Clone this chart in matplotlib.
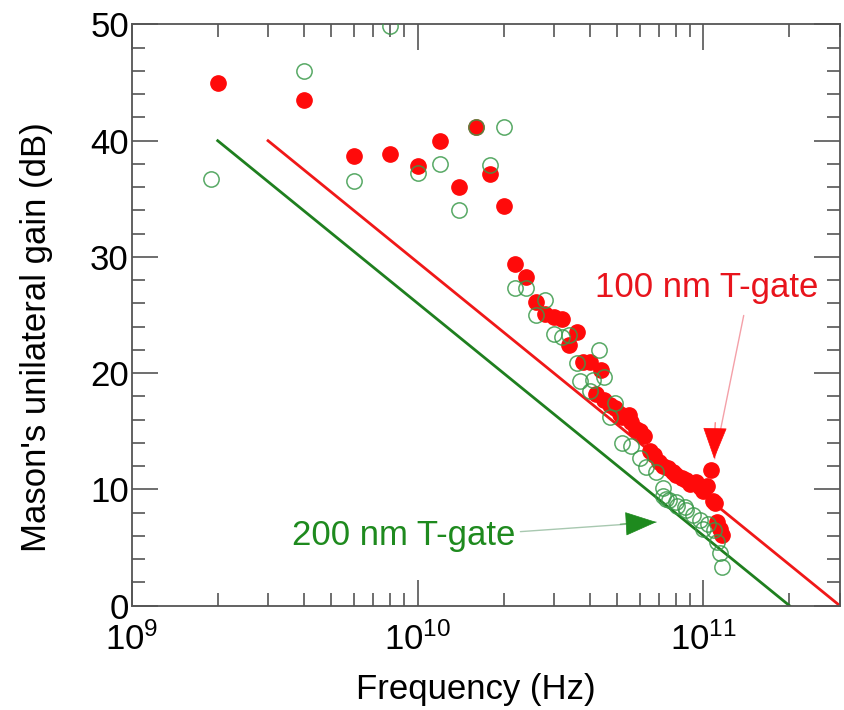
import numpy as np
import matplotlib.pyplot as plt
from matplotlib.ticker import MultipleLocator, LogLocator, NullFormatter

plt.rcParams['font.family'] = ['Liberation Sans', 'DejaVu Sans']
plt.rcParams['mathtext.default'] = 'regular'

# 100 nm T-gate (filled red), frequency in GHz, gain in dB
f_100 = [2, 4, 6, 8, 10, 12, 14, 16, 18, 20,
         22, 24, 26, 28, 30, 32, 34, 36, 38, 40,
         42, 44, 45, 47, 49, 51, 52, 55, 56, 58,
         60, 62, 65, 67, 70, 72, 75, 78, 80, 84,
         87, 90, 94, 97, 100, 103, 106, 108, 110, 112,
         114, 116]
u_100 = [45.0, 43.5, 38.7, 38.9, 37.8, 40.0, 36.0, 41.2, 37.1, 34.4,
         29.4, 28.3, 26.1, 25.1, 24.8, 24.7, 22.4, 23.5, 21.0, 21.0,
         18.2, 20.3, 17.7, 17.3, 17.0, 16.5, 16.2, 16.4, 15.8, 15.2,
         15.0, 14.6, 13.3, 13.0, 12.4, 12.0, 11.8, 11.5, 11.2, 11.0,
         10.8, 10.5, 10.6, 10.2, 9.9, 10.3, 11.7, 9.0, 8.8, 7.2,
         6.6, 6.1]

# 200 nm T-gate (open green)
f_200 = [1.9, 4, 6, 8, 10, 12, 14, 16, 18, 20,
         22, 24, 26, 28, 30, 32, 34, 36, 37, 40,
         41, 43, 45, 47, 49, 52, 56, 60, 63, 68,
         72, 72, 74, 76, 80, 81, 86, 87, 92, 97,
         100, 104, 109, 112, 114, 116]
u_200 = [36.7, 46.0, 36.5, 49.9, 37.2, 38.0, 34.0, 41.2, 37.9, 41.2,
         27.3, 27.3, 25.0, 26.3, 23.4, 23.1, 23.3, 20.9, 19.3, 18.5,
         19.4, 22.0, 19.7, 16.2, 17.4, 14.0, 13.7, 12.7, 11.9, 11.5,
         10.1, 9.4, 9.2, 9.1, 8.9, 8.6, 8.5, 8.2, 7.8, 7.4,
         6.6, 7.0, 6.5, 5.5, 4.5, 3.3]

# -20 dB/decade guide lines (Hz, dB)
line_100_f = [3e9, 3e11]
line_200_f = [2e9, 2e11]
line_u = [40, 0]

red = '#ff0a0a'
green = '#3a9a4a'
dgreen = '#1f7f1f'
tgreen = '#1e8a1e'

fig = plt.figure(figsize=(8.44, 7.10), dpi=100)
ax = fig.add_axes([0.156, 0.147, 0.839, 0.8185])

ax.plot(line_100_f, line_u, color='#f01818', lw=2.0, zorder=2)
ax.plot(line_200_f, line_u, color=dgreen, lw=2.0, zorder=2)

ax.plot(np.array(f_100) * 1e9, u_100, 'o', ms=11, color=red, mec=red, zorder=3)
ax.plot(np.array(f_200) * 1e9, u_200, 'o', ms=11, mfc='none', mec=green,
        mew=1.1, alpha=0.85, zorder=4)

ax.set_xscale('log')
ax.set_xlim(1e9, 3e11)
ax.set_ylim(0, 50)
ax.yaxis.set_major_locator(MultipleLocator(10))
ax.yaxis.set_minor_locator(MultipleLocator(2))
ax.xaxis.set_major_locator(LogLocator(base=10))
ax.xaxis.set_minor_locator(LogLocator(base=10, subs=np.arange(2, 10)))
ax.xaxis.set_minor_formatter(NullFormatter())

ax.tick_params(which='both', direction='in', top=True, right=True,
               color='#555555', width=1.2, labelsize=25)
ax.tick_params(which='major', length=19)
ax.tick_params(which='minor', length=9.5)
ax.tick_params(axis='x', which='major', pad=12)
ax.tick_params(axis='y', which='major', pad=2)
for s in ax.spines.values():
    s.set_color('#555555')
    s.set_linewidth(1.3)

# axis titles placed in figure pixels
fig.text(476 / 844, 1 - 699 / 710, 'Frequency (Hz)', fontsize=25,
         ha='center', va='baseline')
fig.text(45.6 / 844, 1 - 552 / 710, "Mason's unilateral gain (dB)",
         fontsize=25, rotation=90, rotation_mode='anchor',
         ha='left', va='baseline')

# annotations
head = '-|>,head_length=2.1,head_width=0.8'
ax.annotate('', xy=(1.09e11, 12.4), xytext=(1.39e11, 25.2),
            arrowprops=dict(arrowstyle='-', color='#f4a0a8', lw=1.0))
ax.annotate('', xy=(1.09e11, 12.4), xytext=(1.1e11, 16.0),
            arrowprops=dict(arrowstyle=head, color=red, lw=0.5))
ax.text(4.16e10, 26.55, '100 nm T-gate', color='#e8141c', fontsize=25,
        ha='left', va='baseline')

ax.annotate('', xy=(7.0e10, 7.2), xytext=(2.24e10, 6.35),
            arrowprops=dict(arrowstyle='-', color='#a8c8b0', lw=1.0))
ax.annotate('', xy=(7.0e10, 7.2), xytext=(5.0e10, 7.0),
            arrowprops=dict(arrowstyle=head, color=tgreen, lw=0.5))
ax.text(3.63e9, 5.22, '200 nm T-gate', color=tgreen, fontsize=25,
        ha='left', va='baseline')

fig.savefig('out.png', dpi=100)
